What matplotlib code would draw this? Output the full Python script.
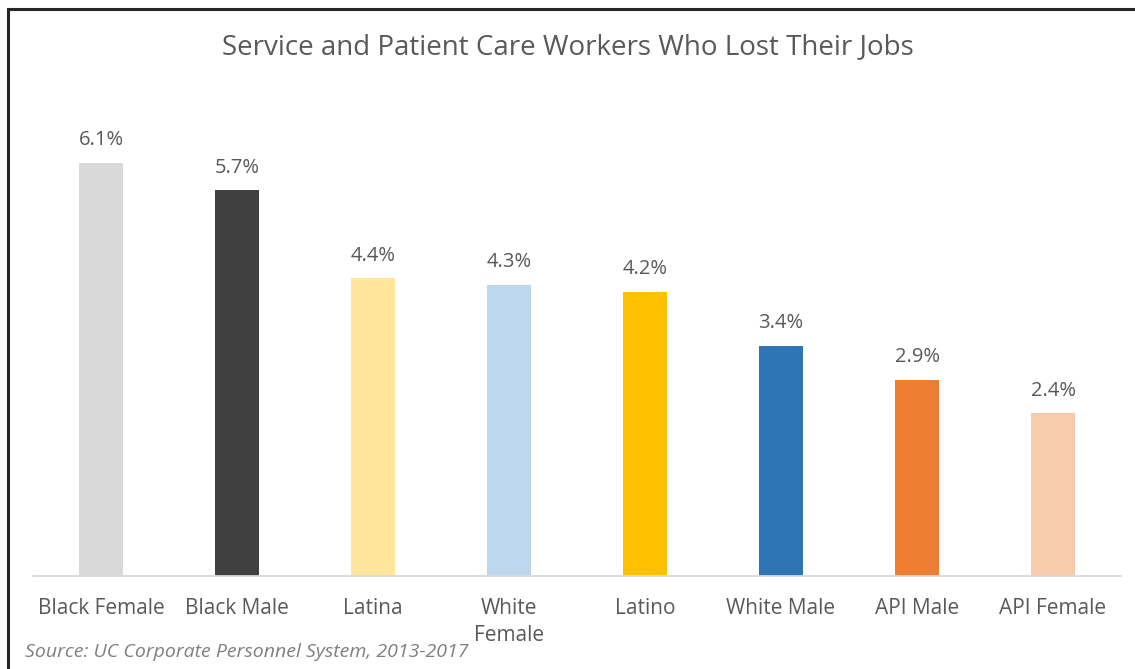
import matplotlib.pyplot as plt
from matplotlib.lines import Line2D

categories = ['Black Female', 'Black Male', 'Latina', 'White\nFemale', 'Latino',
              'White Male', 'API Male', 'API Female']
values = [6.1, 5.7, 4.4, 4.3, 4.2, 3.4, 2.9, 2.4]
colors = ['#D9D9D9', '#404040', '#FFE699', '#BDD7EE', '#FFC000',
          '#2E75B6', '#ED7D31', '#F8CBAD']

plt.rcParams['font.family'] = ['Open Sans', 'DejaVu Sans']
text_color = '#595959'

W, H = 1135, 669
fig = plt.figure(figsize=(W / 100, H / 100), dpi=100)

# axes placed in pixel coords: x 33..1121, y 102..576
ax = fig.add_axes([33 / W, 1 - 576 / H, (1121 - 33) / W, (576 - 102) / H])
x = range(len(categories))
bars = ax.bar(x, values, width=0.32, color=colors)
ax.set_xlim(-0.5, len(categories) - 0.5)
ax.set_ylim(0, 7)

for b, v in zip(bars, values):
    ax.annotate(f'{v:.1f}%', (b.get_x() + b.get_width() / 2, v),
                xytext=(0, 9), textcoords='offset points',
                ha='center', va='bottom', fontsize=14.5, color=text_color)

ax.set_xticks(list(x))
ax.set_xticklabels(categories, fontsize=15, color=text_color, va='top',
                   linespacing=1.35)
ax.tick_params(axis='x', length=0, pad=16)
ax.set_yticks([])
for s in ['top', 'right', 'left']:
    ax.spines[s].set_visible(False)
ax.spines['bottom'].set_color('#D9D9D9')
ax.spines['bottom'].set_linewidth(1.3)

fig.text(0.5, 1 - 47 / H, 'Service and Patient Care Workers Who Lost Their Jobs',
         ha='center', va='center', fontsize=20, color=text_color)
fig.text(25 / W, 1 - 652 / H, 'Source: UC Corporate Personnel System, 2013-2017',
         ha='left', va='center', fontsize=14, style='italic', color='#7F7F7F')

# outer frame (top and left edges)
fig.add_artist(Line2D([8 / W, 1], [1 - 9 / H, 1 - 9 / H], color='#262626', lw=2.2,
                      transform=fig.transFigure))
fig.add_artist(Line2D([8 / W, 8 / W], [0, 1 - 9 / H], color='#262626', lw=2.2,
                      transform=fig.transFigure))

fig.savefig('out.png', dpi=100)
